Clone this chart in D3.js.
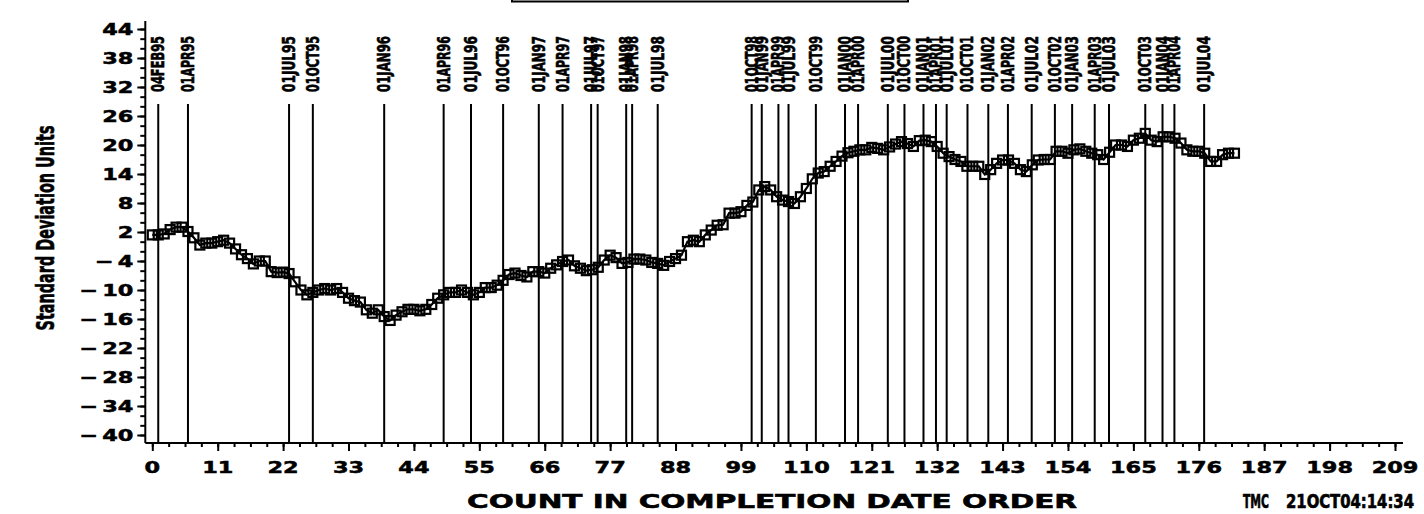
<!DOCTYPE html>
<html>
<head>
<meta charset="utf-8">
<script src="https://cdn.jsdelivr.net/npm/d3@7"></script>
<style>
  html, body { margin: 0; padding: 0; background: #fff; }
  svg { display: block; }
</style>
</head>
<body>
<svg id="chart" width="1424" height="514"></svg>
<script>
// Standard deviation units by count in completion date order
const sdUnits = [
  1.4, 1.4, 1.6, 2.5, 3.0, 3.0, 2.1, 0.8, -0.7, -0.3,
  -0.3, 0.0, 0.3, -0.3, -1.5, -2.7, -3.5, -4.6, -4.0, -4.0,
  -6.2, -6.4, -6.3, -6.6, -8.3, -10.0, -11.0, -10.5, -10.0, -9.7,
  -10.0, -9.7, -10.5, -11.7, -12.2, -12.5, -14.1, -14.8, -14.1, -15.5,
  -16.3, -15.2, -14.5, -14.0, -14.0, -14.3, -14.0, -13.0, -11.7, -11.0,
  -10.5, -10.5, -10.0, -10.5, -11.0, -10.5, -9.5, -9.5, -9.0, -8.0,
  -6.8, -6.5, -7.0, -7.3, -6.2, -6.2, -6.5, -5.5, -4.8, -4.1,
  -3.8, -5.0, -5.5, -6.0, -5.8, -5.3, -3.8, -2.8, -3.3, -4.5,
  -4.3, -3.6, -3.6, -3.8, -4.3, -4.5, -4.9, -4.1, -3.5, -2.8,
  0.0, 0.3, 0.0, 1.4, 2.4, 3.4, 3.5, 5.9, 5.9, 6.2,
  7.5, 8.2, 10.7, 11.4, 10.7, 9.3, 8.6, 8.3, 7.9, 9.3,
  11.0, 13.0, 14.2, 14.5, 15.6, 16.6, 17.7, 18.4, 18.7, 19.0,
  19.0, 19.5, 19.3, 19.0, 19.6, 20.2, 20.7, 20.3, 19.7, 20.9,
  21.0, 20.7, 19.7, 18.3, 17.6, 17.0, 16.6, 15.6, 15.6, 15.6,
  13.9, 14.9, 16.2, 16.9, 16.9, 16.2, 14.9, 14.5, 15.9, 16.9,
  17.0, 17.0, 18.7, 18.7, 18.3, 19.0, 19.2, 18.7, 18.3, 18.0,
  17.0, 18.5, 20.0, 20.0, 19.7, 21.0, 21.4, 22.4, 21.0, 20.7,
  21.7, 21.7, 21.4, 20.4, 19.0, 18.7, 18.7, 18.3, 16.6, 16.6,
  18.0, 18.3, 18.3
];

// Quarter boundaries (position in the count order) and their date labels
const refCounts = [
  1, 6, 23, 27, 39, 49, 53.6, 59, 65, 69,
  73.8, 74.9, 79.7, 80.7, 85, 100.8, 102.5, 105.3, 107, 111.6,
  116.5, 118.7, 123.7, 126.5, 129.7, 131.8, 133.6, 137.1, 140.6, 143.9,
  147.9, 151.8, 154.7, 158.5, 160.9, 167, 169.9, 171.9, 176.9
];
const refLabels = [
  "04FEB95", "01APR95", "01JUL95", "01OCT95", "01JAN96", "01APR96", "01JUL96", "01OCT96", "01JAN97", "01APR97",
  "01JUL97", "01OCT97", "01JAN98", "01APR98", "01JUL98", "01OCT98", "01JAN99", "01APR99", "01JUL99", "01OCT99",
  "01JAN00", "01APR00", "01JUL00", "01OCT00", "01JAN01", "01APR01", "01JUL01", "01OCT01", "01JAN02", "01APR02",
  "01JUL02", "01OCT02", "01JAN03", "01APR03", "01JUL03", "01OCT03", "01JAN04", "01APR04", "01JUL04"
];

const xTicks = [0, 11, 22, 33, 44, 55, 66, 77, 88, 99, 110, 121, 132, 143, 154, 165, 176, 187, 198, 209];
const yTicks = [-40, -34, -28, -22, -16, -10, -4, 2, 8, 14, 20, 26, 32, 38, 44];

const xTitle = "COUNT IN COMPLETION DATE ORDER";
const yTitle = "Standard Deviation Units";
const stampId = "TMC";
const stampTime = "21OCT04:14:34";

const svg = d3.select("#chart");
const x = d3.scaleLinear().domain([0, 209]).range([152.3, 1395]);
const y = d3.scaleLinear().domain([-40, 44]).range([435, 29]);

const axisX = x(0) - 7;          // vertical axis position
const axisY = y(-40) + 8;        // horizontal axis position
const axisRight = x(209) + 8;
const axisTop = y(44) - 8;

const tickFont = "'DejaVu Sans', Arial, sans-serif";
const narrowFont = "'Liberation Sans Narrow', 'DejaVu Sans Condensed', 'Liberation Sans', sans-serif";

// title box edge at the top
const boxL = 512, boxR = 908;
svg.append("path")
  .attr("d", `M${boxL},0 L${boxL},1.5 L${boxR},1.5 L${boxR},0`)
  .attr("fill", "none").attr("stroke", "#000").attr("stroke-width", 2);

// reference lines at quarter boundaries
const refG = svg.append("g");
refG.selectAll("line").data(refCounts).join("line")
  .attr("x1", d => x(d)).attr("x2", d => x(d))
  .attr("y1", 104).attr("y2", axisY)
  .attr("stroke", "#000").attr("stroke-width", 2);

refG.selectAll("text").data(refCounts).join("text")
  .attr("transform", d => `translate(${x(d) + 6},92) rotate(-90)`)
  .attr("font-family", narrowFont)
  .attr("font-weight", "bold")
  .attr("font-size", 17)
  .attr("stroke", "#000").attr("stroke-width", 0.6)
  .attr("textLength", 56)
  .attr("lengthAdjust", "spacingAndGlyphs")
  .text((d, i) => refLabels[i]);

// axes
const yMinor = d3.range(-40, 45, 2);
const xMinor = d3.range(0, 209.01, 2.75);

svg.append("g")
  .attr("transform", `translate(${axisX},0)`)
  .call(d3.axisLeft(y).tickValues(yMinor).tickSize(5).tickFormat(""))
  .call(g => g.select(".domain").remove());
svg.append("g")
  .attr("transform", `translate(${axisX},0)`)
  .call(d3.axisLeft(y).tickValues(yTicks).tickSize(8).tickFormat(""))
  .call(g => g.select(".domain").remove());
svg.append("g")
  .attr("transform", `translate(0,${axisY})`)
  .call(d3.axisBottom(x).tickValues(xMinor).tickSize(4).tickFormat(""))
  .call(g => g.select(".domain").remove());
svg.append("g")
  .attr("transform", `translate(0,${axisY})`)
  .call(d3.axisBottom(x).tickValues(xTicks).tickSize(8).tickFormat(""))
  .call(g => g.select(".domain").remove());
svg.selectAll(".tick line").attr("stroke", "#000").attr("stroke-width", 2);

svg.append("line")
  .attr("x1", axisX).attr("x2", axisX).attr("y1", axisTop).attr("y2", axisY)
  .attr("stroke", "#000").attr("stroke-width", 2);
svg.append("line")
  .attr("x1", axisX).attr("x2", axisRight).attr("y1", axisY).attr("y2", axisY)
  .attr("stroke", "#000").attr("stroke-width", 2);

// tick labels
const fmtY = d => d < 0 ? "\u2212\u2009" + Math.abs(d) : String(d);
svg.append("g").selectAll("text").data(yTicks).join("text")
  .attr("transform", d => `translate(${axisX - 12},${y(d) + 6}) scale(1.4,1)`)
  .attr("text-anchor", "end")
  .attr("font-family", tickFont).attr("font-weight", "bold").attr("font-size", 16)
  .attr("stroke", "#000").attr("stroke-width", 0.5)
  .text(fmtY);

svg.append("g").selectAll("text").data(xTicks).join("text")
  .attr("transform", d => `translate(${x(d)},${axisY + 30}) scale(1.4,1)`)
  .attr("text-anchor", "middle")
  .attr("font-family", tickFont).attr("font-weight", "bold").attr("font-size", 16)
  .attr("stroke", "#000").attr("stroke-width", 0.5)
  .text(d => d);

// axis titles and stamp
svg.append("text")
  .attr("x", 467).attr("y", 508)
  .attr("font-family", tickFont).attr("font-weight", "bold").attr("font-size", 20)
  .attr("stroke", "#000").attr("stroke-width", 0.6)
  .attr("textLength", 610).attr("lengthAdjust", "spacingAndGlyphs")
  .text(xTitle);

svg.append("text")
  .attr("transform", `translate(54,228) rotate(-90)`)
  .attr("text-anchor", "middle")
  .attr("font-family", narrowFont).attr("font-weight", "bold").attr("font-size", 24)
  .attr("stroke", "#000").attr("stroke-width", 0.6)
  .attr("textLength", 205).attr("lengthAdjust", "spacingAndGlyphs")
  .text(yTitle);

// run stamp, drawn small and stretched vertically
svg.append("text")
  .attr("transform", "translate(1243,508) scale(1,1.3)")
  .attr("font-family", narrowFont).attr("font-weight", "bold").attr("font-size", 15)
  .attr("stroke", "#000").attr("stroke-width", 0.5)
  .attr("textLength", 26).attr("lengthAdjust", "spacingAndGlyphs")
  .text(stampId);
svg.append("text")
  .attr("transform", "translate(1286,508) scale(1,1.3)")
  .attr("font-family", narrowFont).attr("font-weight", "bold").attr("font-size", 15)
  .attr("stroke", "#000").attr("stroke-width", 0.5)
  .attr("textLength", 128).attr("lengthAdjust", "spacingAndGlyphs")
  .text(stampTime);

// series: line with open square markers
const line = d3.line().x((d, i) => x(i)).y(d => y(d));
svg.append("path")
  .datum(sdUnits)
  .attr("d", line)
  .attr("fill", "none").attr("stroke", "#000").attr("stroke-width", 2.2);

const m = 9;
svg.append("g").selectAll("rect").data(sdUnits).join("rect")
  .attr("x", (d, i) => x(i) - m / 2)
  .attr("y", d => y(d) - m / 2)
  .attr("width", m).attr("height", m)
  .attr("fill", "none").attr("stroke", "#000").attr("stroke-width", 2.2);
</script>
</body>
</html>
